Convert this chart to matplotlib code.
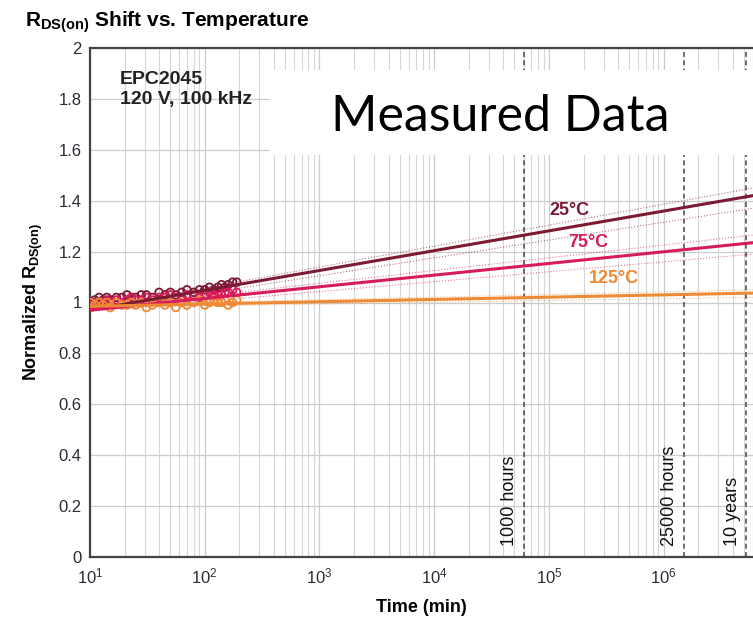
import numpy as np
import matplotlib
matplotlib.use("Agg")
import matplotlib.pyplot as plt
from matplotlib.patches import Rectangle
from matplotlib.ticker import LogLocator, FixedLocator, NullFormatter

plt.rcParams['font.family'] = ['Liberation Sans', 'DejaVu Sans']
plt.rcParams['mathtext.fontset'] = 'custom'
plt.rcParams['mathtext.rm'] = 'Liberation Sans:bold'
plt.rcParams['mathtext.it'] = 'Liberation Sans:bold'

# measured points (time in min, normalized Rds(on))
t_meas = [10, 11, 12, 13, 14, 15, 17, 19, 21, 23, 25, 28, 31, 35, 40, 45,
          50, 56, 63, 70, 80, 90, 100, 110, 120, 130, 140, 150, 160, 175, 190]
r_25 = [1.00, 1.01, 1.02, 1.01, 1.02, 1.01, 1.02, 1.02, 1.03, 1.02, 1.02, 1.03,
        1.03, 1.02, 1.04, 1.03, 1.04, 1.03, 1.04, 1.05, 1.04, 1.05, 1.05, 1.06,
        1.05, 1.06, 1.07, 1.06, 1.07, 1.08, 1.08]
r_75 = [0.99, 1.00, 0.99, 1.00, 1.01, 1.00, 1.01, 1.00, 1.01, 1.02, 1.01, 1.01,
        1.02, 1.01, 1.02, 1.02, 1.03, 1.02, 1.02, 1.03, 1.03, 1.02, 1.03, 1.04,
        1.03, 1.04, 1.03, 1.04, 1.04, 1.05, 1.04]
r_125 = [1.00, 0.99, 1.00, 0.99, 1.00, 0.98, 1.00, 0.99, 0.99, 1.00, 0.99, 1.00,
         0.98, 0.99, 1.00, 0.99, 1.00, 0.98, 1.00, 0.99, 1.00, 1.01, 0.99, 1.00,
         1.01, 1.00, 1.00, 1.01, 0.99, 1.00, 1.01]

# fitted lines: value at start and end of the time axis, plus band ends
t_fit = [10, 6.0e6]
fit_25 = [0.97, 1.42]
fit_75 = [0.97, 1.235]
fit_125 = [0.985, 1.037]
band_25 = ([0.975, 1.45], [0.965, 1.37])
band_75 = ([0.975, 1.265], [0.965, 1.19])
band_125 = ([0.99, 1.05], [0.98, 1.02])

temps = ['25°C', '75°C', '125°C']
colors = ['#7d1a33', '#d81b5a', '#ee8a35']
label_pos = [(1.5e5, 1.36), (2.2e5, 1.235), (3.7e5, 1.095)]

markers_t = [6.0e4, 1.5e6, 5.256e6]
markers_lbl = ['1000 hours', '25000 hours', '10 years']

fig = plt.figure(figsize=(7.53, 6.31), dpi=100)
ax = fig.add_axes([90/753, 1-557/631, 1-90/753, (557-48)/631])

ax.set_xscale('log')
ax.set_xlim(10, 6.0e6)
ax.set_ylim(0, 2)

ax.xaxis.set_major_locator(LogLocator(base=10, numticks=10))
ax.xaxis.set_minor_locator(LogLocator(base=10, subs=np.arange(2, 10), numticks=20))
ax.xaxis.set_minor_formatter(NullFormatter())
ax.yaxis.set_major_locator(FixedLocator(np.arange(0, 2.01, 0.2)))
ax.set_yticklabels(['0', '0.2', '0.4', '0.6', '0.8', '1', '1.2', '1.4', '1.6', '1.8', '2'])
ax.grid(which='major', axis='both', color='#cccccc', lw=0.9)
ax.grid(which='minor', axis='x', color='#d6d6d6', lw=0.8)
ax.tick_params(which='both', length=0, labelsize=12, colors='#2c2c38')
ax.tick_params(axis='x', pad=7)
ax.tick_params(axis='y', pad=6)
for s in ['left', 'bottom', 'top']:
    ax.spines[s].set_color('#444444')
    ax.spines[s].set_linewidth(1.6)
ax.spines['right'].set_visible(False)

series = [(r_25, fit_25, band_25), (r_75, fit_75, band_75), (r_125, fit_125, band_125)]
for (vals, fit, band), c in zip(series, colors):
    ax.plot(t_fit, band[0], ls=':', lw=0.8, color=c, alpha=0.6)
    ax.plot(t_fit, band[1], ls=':', lw=0.8, color=c, alpha=0.6)
for (vals, fit, band), c in zip(series, colors):
    ax.scatter(t_meas, vals, s=30, facecolors='none', edgecolors=c, lw=1.3, zorder=3)
for (vals, fit, band), c in zip(series, colors):
    ax.plot(t_fit, fit, color=c, lw=2.2, zorder=4)

for (x, y), s, c in zip(label_pos, temps, colors):
    ax.text(x, y, s, color=c, fontsize=13, fontweight='bold', ha='center', va='center')

for t, s in zip(markers_t, markers_lbl):
    ax.axvline(t, color='#555555', ls=(0, (3, 2)), lw=1.2)
    ax.text(t / 1.12, 0.045, s, rotation=90, ha='right', va='bottom',
            fontsize=13, color='#111111')

ax.text(0.045, 0.955, 'EPC2045\n120 V, 100 kHz', transform=ax.transAxes,
        fontsize=14, fontweight='bold', va='top', ha='left', color='#222222',
        linespacing=1.2)

ax.set_xlabel('Time (min)', fontsize=13, fontweight='bold', labelpad=9)
ax.set_ylabel(r'Normalized R$_{\mathrm{DS(on)}}$', fontsize=13, fontweight='bold', labelpad=10)
fig.text(25/753, 1-22/631, r'R$_{\mathrm{DS(on)}}$ Shift vs. Temperature',
         fontsize=15, fontweight='bold', va='center', ha='left')

fig.patches.append(Rectangle((270/753, 1-155/631), 1, 85/631, transform=fig.transFigure,
                             facecolor='white', edgecolor='none', zorder=5))
fig.text(500/753, 1-117/631, 'Measured Data', fontsize=36, family='Lato',
         ha='center', va='center', zorder=6)

fig.savefig('out.png', dpi=100)
